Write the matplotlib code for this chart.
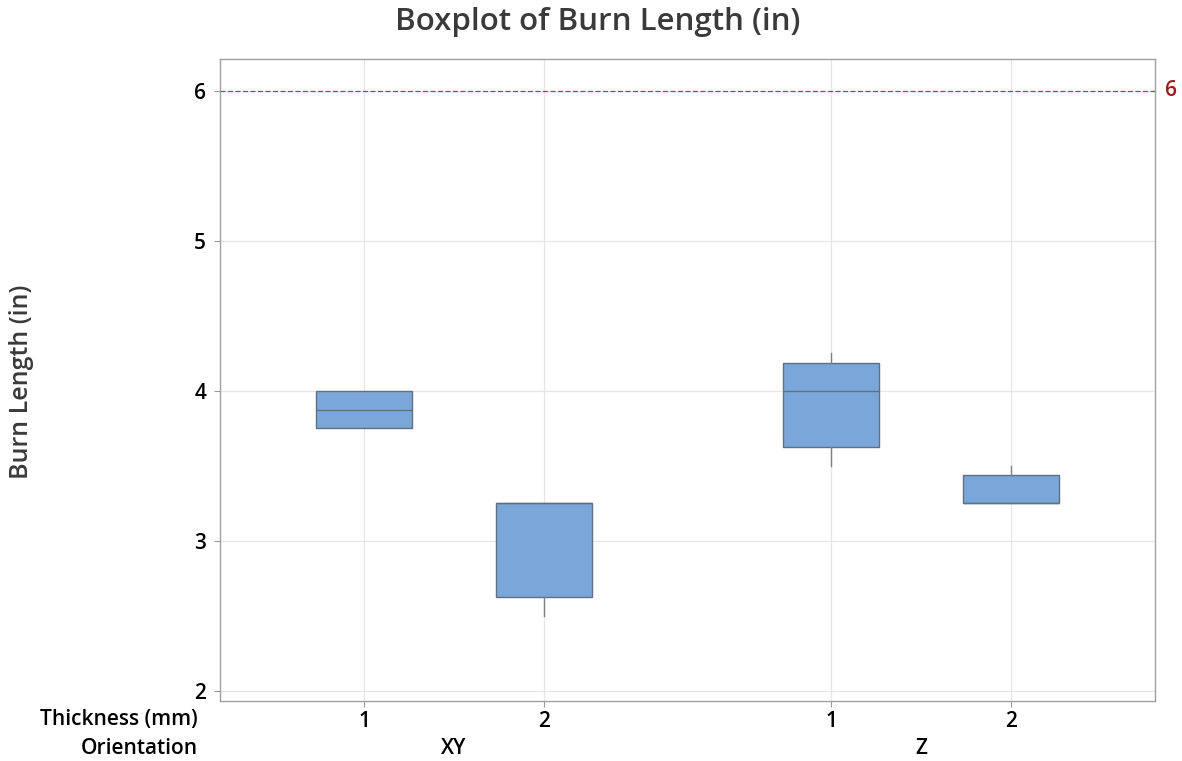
import matplotlib.pyplot as plt

plt.rcParams['font.family'] = ['Open Sans', 'DejaVu Sans']

# summary statistics per group (Orientation / Thickness)
orientation = ["XY", "XY", "Z", "Z"]
thickness = ["1", "2", "1", "2"]
mins = [3.75, 2.5, 3.5, 3.25]
q1s = [3.75, 2.625, 3.625, 3.25]
medians = [3.875, 3.25, 4.0, 3.25]
q3s = [4.0, 3.25, 4.1875, 3.4375]
maxs = [4.0, 3.25, 4.25, 3.5]
ref_value = 6

positions = [1, 2, 3.594, 4.594]

stats = []
for lo, a, m, b, hi in zip(mins, q1s, medians, q3s, maxs):
    stats.append({"whislo": lo, "q1": a, "med": m, "q3": b, "whishi": hi, "fliers": []})

W, H = 1182, 761
fig = plt.figure(figsize=(W / 100, H / 100), dpi=100)
ax = fig.add_axes([220 / W, 1 - 701 / H, 935 / W, 642 / H])

ax.bxp(stats, positions=positions, widths=0.533, patch_artist=True, showcaps=False,
       boxprops=dict(facecolor="#7BA6D9", edgecolor="#5F6F84", linewidth=1.0),
       medianprops=dict(color="#5F6F84", linewidth=1.0),
       whiskerprops=dict(color="#7F7F7F", linewidth=1.0),
       zorder=3)

ax.axhline(ref_value, color="#C0392B", linestyle=(0, (4, 2)), linewidth=0.9, zorder=2)
ax.text(1.011, ref_value, str(ref_value), transform=ax.get_yaxis_transform(),
        color="#9B1B1B", fontsize=15, fontweight="semibold", va="center", ha="left")

ax.set_xlim(0.2, 5.394)
ax.set_ylim(1.933, 6.213)
ax.set_yticks([2, 3, 4, 5, 6])
ax.set_xticks(positions)
ax.set_xticklabels(thickness)
ax.tick_params(axis="both", labelsize=15, colors="#000000", length=4, color="#999999")
ax.tick_params(axis="y", pad=6)
ax.tick_params(axis="x", pad=3)
for lab in ax.get_xticklabels() + ax.get_yticklabels():
    lab.set_fontweight("semibold")

ax.grid(True, color="#E6E6E6", linewidth=0.9, zorder=0)
ax.set_axisbelow(True)
for s in ax.spines.values():
    s.set_color("#A0A0A0")
    s.set_linewidth(1.0)

# category row labels under the axis
fig.text(198 / W, 1 - 720 / H, "Thickness (mm)", ha="right", va="center",
         fontsize=15, fontweight="semibold")
fig.text(198 / W, 1 - 748 / H, "Orientation", ha="right", va="center",
         fontsize=15, fontweight="semibold")
for name, x0, x1 in [("XY", positions[0], positions[1]), ("Z", positions[2], positions[3])]:
    ax.text((x0 + x1) / 2, -(748 - 701) / 642, name, transform=ax.get_xaxis_transform(),
            ha="center", va="center", fontsize=15, fontweight="semibold")

fig.text(22 / W, 1 - 382 / H, "Burn Length (in)", rotation=90, ha="center", va="center",
         fontsize=18, fontweight="semibold", color="#3A3A3A")
fig.text(598 / W, 1 - 22 / H, "Boxplot of Burn Length (in)", ha="center", va="center",
         fontsize=22.5, fontweight="semibold", color="#3A3A3A")

fig.savefig("out.png", dpi=100)
